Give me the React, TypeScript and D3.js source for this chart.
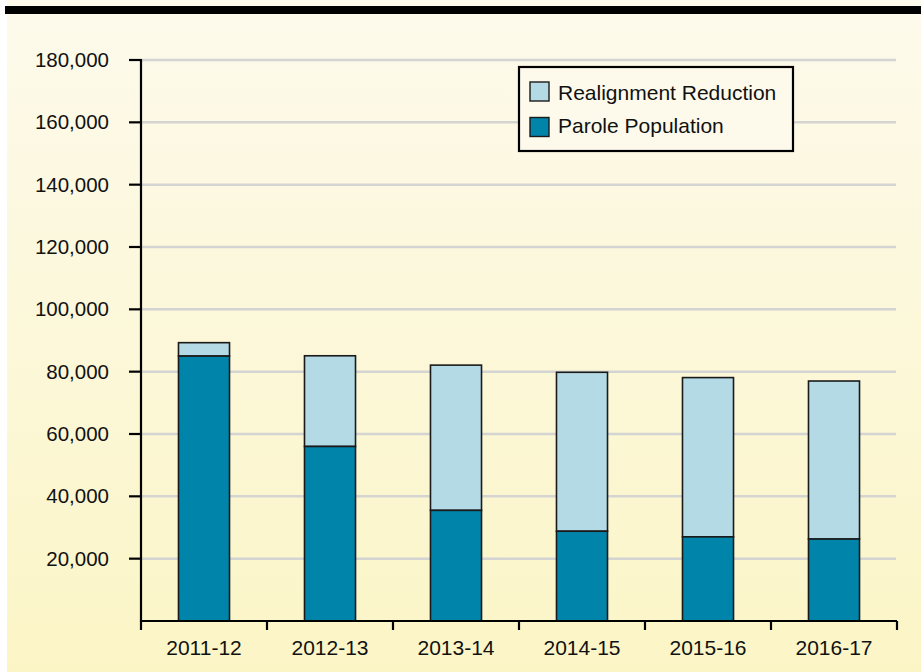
import React from "react";
import * as d3 from "d3";

const categories = ["2011-12", "2012-13", "2013-14", "2014-15", "2015-16", "2016-17"];
const paroleValues = [85000, 56000, 35500, 28800, 27000, 26300];
const totalValues = [89300, 85100, 82100, 79800, 78100, 77000];
const yTicks = [20000, 40000, 60000, 80000, 100000, 120000, 140000, 160000, 180000];
const legendLabels = ["Realignment Reduction", "Parole Population"];

const W = 921;
const H = 672;
const LIGHT = "#b4dae5";
const DARK = "#0084aa";
const FONT = "'Liberation Sans', Arial, Helvetica, sans-serif";

export default function App() {
  const x = d3.scaleBand<string>().domain(categories).range([141, 897]).padding(0);
  const y = d3.scaleLinear().domain([0, 180000]).range([621, 60]);
  const barW = x.bandwidth() * 0.405;
  const fmt = d3.format(",");

  return (
    <svg width={W} height={H} style={{ position: "absolute", left: 0, top: 0 }} fontFamily={FONT}>
      <defs>
        <linearGradient id="bg" x1="0" y1="0" x2="0" y2="1">
          <stop offset="0" stopColor="#fdfaec" />
          <stop offset="1" stopColor="#fbf5c6" />
        </linearGradient>
      </defs>
      <rect x={0} y={0} width={W} height={H} fill="#ffffff" />
      <rect x={7} y={0} width={W - 7} height={H} fill="url(#bg)" />
      <rect x={5} y={6} width={W - 5} height={8} fill="#000" />

      {/* gridlines */}
      {yTicks.map((t) => (
        <line key={"g" + t} x1={141} x2={896} y1={y(t)} y2={y(t)} stroke="#d4d4d2" strokeWidth={2.5} />
      ))}

      {/* bars */}
      {categories.map((c, i) => {
        const cx = (x(c) as number) + x.bandwidth() / 2;
        const x0 = cx - barW / 2;
        return (
          <g key={c}>
            <rect x={x0} y={y(totalValues[i])} width={barW} height={y(paroleValues[i]) - y(totalValues[i])}
              fill={LIGHT} stroke="#1a1a1a" strokeWidth={1.6} />
            <rect x={x0} y={y(paroleValues[i])} width={barW} height={y(0) - y(paroleValues[i])}
              fill={DARK} stroke="#1a1a1a" strokeWidth={1.6} />
          </g>
        );
      })}

      {/* y axis */}
      <line x1={141} x2={141} y1={59} y2={622} stroke="#000" strokeWidth={2.2} />
      {yTicks.map((t) => (
        <g key={"y" + t}>
          <line x1={129} x2={141} y1={y(t)} y2={y(t)} stroke="#000" strokeWidth={2.2} />
          <text x={109} y={y(t) + 7} textAnchor="end" fontSize={20.5} fill="#111">{fmt(t)}</text>
        </g>
      ))}

      {/* x axis */}
      <line x1={140} x2={897} y1={621} y2={621} stroke="#000" strokeWidth={2.2} />
      {[...categories.map((c) => x(c) as number), 897].map((px, i) => (
        <line key={"xt" + i} x1={px} x2={px} y1={621} y2={630} stroke="#000" strokeWidth={2.2} />
      ))}
      {categories.map((c) => (
        <text key={"xl" + c} x={(x(c) as number) + x.bandwidth() / 2} y={655} textAnchor="middle" fontSize={21} fill="#111">{c}</text>
      ))}

      {/* legend */}
      <rect x={519} y={67} width={274} height={84} fill="#fdfaec" stroke="#000" strokeWidth={2.2} />
      {legendLabels.map((l, i) => (
        <g key={l}>
          <rect x={530} y={82 + i * 35.5} width={19} height={19} fill={i === 0 ? LIGHT : DARK} stroke="#1a1a1a" strokeWidth={1.4} />
          <text x={558} y={99.5 + i * 33.5} fontSize={21} fill="#111">{l}</text>
        </g>
      ))}
    </svg>
  );
}
